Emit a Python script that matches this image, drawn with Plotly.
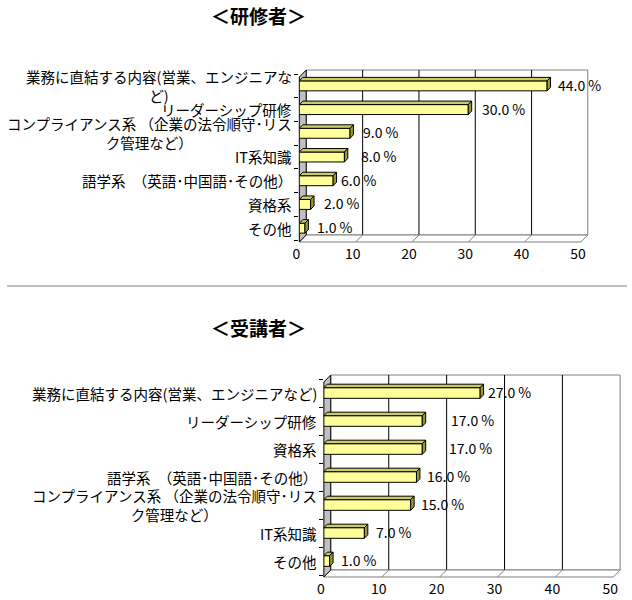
import plotly.graph_objects as go

# ---------------- data ----------------
top_title = "＜研修者＞"
top_categories = [
    "業務に直結する内容(営業、エンジニアな<br>ど)",
    "リーダーシップ研修",
    "コンプライアンス系 （企業の法令順守･リス<br>ク管理など）",
    "IT系知識",
    "語学系　（英語･中国語･その他）",
    "資格系",
    "その他",
]
top_values = [44.0, 30.0, 9.0, 8.0, 6.0, 2.0, 1.0]

bottom_title = "＜受講者＞"
bottom_categories = [
    "業務に直結する内容(営業、エンジニアなど)",
    "リーダーシップ研修",
    "資格系",
    "語学系　（英語･中国語･その他）",
    "コンプライアンス系 （企業の法令順守･リス<br>ク管理など）",
    "IT系知識",
    "その他",
]
bottom_values = [27.0, 17.0, 17.0, 16.0, 15.0, 7.0, 1.0]

x_ticks = [0, 10, 20, 30, 40, 50]

# label gaps (px) after bar ends, as placed in the original
top_label_gap = [9, 12, 11, 15, 6, 11, 10]
bottom_label_gap = [6, 27, 25, 9, 8, 10, 9]

# ---------------- style / layout ----------------
W, H = 632, 600
FONT = "Noto Sans CJK JP"
BAR_FRONT = "#FFFF99"
BAR_TOP = "#CCCC66"
BAR_SIDE = "#999933"
WALL = "#C0C0C0"
EDGE = "#808080"


def px(x):
    return x / W


def py(y):
    return 1 - y / H


charts = [
    dict(title=top_title, cats=top_categories, vals=top_values, gaps=top_label_gap,
         title_y=15, fx0=298, fx1=585, dom_top=74, dom_bot=240,
         wall_top=77, floor_front=242, depth=7, bar_w=0.42, xa="x", ya="y"),
    dict(title=bottom_title, cats=bottom_categories, vals=bottom_values, gaps=bottom_label_gap,
         title_y=327, fx0=323, fx1=618, dom_top=379, dom_bot=575,
         wall_top=382, floor_front=577, depth=7, bar_w=0.38, xa="x2", ya="y2"),
]

fig = go.Figure()
shapes = []
annotations = []
BAR_DEPTH_PX = 3.5

for k, c in enumerate(charts):
    n = len(c["cats"])
    ypos = [n - 1 - i for i in range(n)]
    vals = c["vals"]
    hw = c["bar_w"] / 2
    # pixel depth in data units
    dx = BAR_DEPTH_PX * 50 / (c["fx1"] - c["fx0"])
    dy = BAR_DEPTH_PX * n / (c["dom_bot"] - c["dom_top"])

    fig.add_trace(go.Bar(
        x=vals, y=ypos, orientation="h", width=c["bar_w"],
        marker=dict(color=BAR_FRONT, line=dict(color="black", width=1)),
        xaxis=c["xa"], yaxis=c["ya"], hoverinfo="skip", showlegend=False,
    ))
    # top faces
    tx, ty = [], []
    sx, sy = [], []
    for v, yp in zip(vals, ypos):
        tx += [0, v, v + dx, dx, 0, None]
        ty += [yp + hw, yp + hw, yp + hw + dy, yp + hw + dy, yp + hw, None]
        sx += [v, v, v + dx, v + dx, v, None]
        sy += [yp - hw, yp + hw, yp + hw + dy, yp - hw + dy, yp - hw, None]
    fig.add_trace(go.Scatter(x=tx, y=ty, mode="lines", fill="toself", fillcolor=BAR_TOP,
                             line=dict(color="black", width=1), xaxis=c["xa"], yaxis=c["ya"],
                             hoverinfo="skip", showlegend=False))
    fig.add_trace(go.Scatter(x=sx, y=sy, mode="lines", fill="toself", fillcolor=BAR_SIDE,
                             line=dict(color="black", width=1), xaxis=c["xa"], yaxis=c["ya"],
                             hoverinfo="skip", showlegend=False))

    d = c["depth"]
    back_top = c["wall_top"] - d
    back_bot = c["floor_front"] - d
    fx0, fx1 = c["fx0"], c["fx1"]
    # back plane
    shapes.append(dict(type="rect", xref="paper", yref="paper", layer="below",
                       x0=px(fx0 + d), x1=px(fx1 + d), y0=py(back_bot), y1=py(back_top),
                       fillcolor="white", line=dict(color=EDGE, width=1)))
    # back gridlines
    for t in x_ticks[1:-1]:
        shapes.append(dict(type="line", xref=c["xa"], xsizemode="pixel", xanchor=t,
                           x0=d, x1=d, yref="paper", y0=py(back_bot), y1=py(back_top),
                           layer="below", line=dict(color="black", width=1)))
    # floor
    shapes.append(dict(type="path", xref="paper", yref="paper", layer="below",
                       path=f"M{px(fx0)},{py(c['floor_front'])} L{px(fx0 + d)},{py(back_bot)} "
                            f"L{px(fx1 + d)},{py(back_bot)} L{px(fx1)},{py(c['floor_front'])} Z",
                       fillcolor="white", line=dict(color=EDGE, width=1)))
    for t in x_ticks[1:-1]:
        shapes.append(dict(type="line", xref=c["xa"], xsizemode="pixel", xanchor=t,
                           x0=0, x1=d, yref="paper", y0=py(c["floor_front"]), y1=py(back_bot),
                           layer="below", line=dict(color=EDGE, width=1)))
    # left wall
    shapes.append(dict(type="path", xref="paper", yref="paper", layer="below",
                       path=f"M{px(fx0)},{py(c['wall_top'])} L{px(fx0 + d)},{py(back_top)} "
                            f"L{px(fx0 + d)},{py(back_bot)} L{px(fx0)},{py(c['floor_front'])} Z",
                       fillcolor=WALL, line=dict(color="black", width=1)))

    # title
    annotations.append(dict(text=c["title"], xref="paper", yref="paper", x=px(256), y=py(c["title_y"]),
                            xanchor="center", yanchor="middle", showarrow=False,
                            font=dict(family=FONT, size=19, color="black", weight="bold")))
    # category labels
    for cat, yp in zip(c["cats"], ypos):
        annotations.append(dict(text=cat, xref="paper", yref=c["ya"], x=px(fx0 - 5), y=yp,
                                xanchor="right", yanchor="middle", align="center", showarrow=False,
                                font=dict(family=FONT, size=14.5, color="black")))
    # value labels
    for v, yp, g in zip(vals, ypos, c["gaps"]):
        annotations.append(dict(text=f"{v:.1f} %", xref=c["xa"], yref=c["ya"], x=v, y=yp,
                                xanchor="left", yanchor="middle", xshift=g, yshift=1, showarrow=False,
                                font=dict(family=FONT, size=14, color="black")))

# separator line
shapes.append(dict(type="line", xref="paper", yref="paper", x0=0, x1=1, y0=py(286), y1=py(286),
                   line=dict(color=EDGE, width=1)))

layout = dict(
    width=W, height=H, margin=dict(l=0, r=0, t=0, b=0), autosize=False,
    paper_bgcolor="white", plot_bgcolor="rgba(0,0,0,0)",
    showlegend=False, shapes=shapes, annotations=annotations,
    font=dict(family=FONT, color="black"),
)
for c in charts:
    xname = "xaxis" if c["xa"] == "x" else "xaxis2"
    yname = "yaxis" if c["ya"] == "y" else "yaxis2"
    n = len(c["cats"])
    layout[xname] = dict(domain=[px(c["fx0"]), px(c["fx1"])], range=[0, 50], anchor=c["ya"],
                         tickvals=x_ticks, ticks="", showgrid=False, zeroline=False, showline=False,
                         tickfont=dict(family=FONT, size=14, color="black"),
                         ticklabelshift=-3, ticklabelstandoff=4, fixedrange=True)
    layout[yname] = dict(domain=[py(c["dom_bot"]), py(c["dom_top"])], range=[-0.5, n - 0.5],
                         anchor=c["xa"], tickvals=[i - 0.5 for i in range(n + 1)],
                         ticks="outside", ticklen=4, tickcolor="black", showticklabels=False,
                         showgrid=False, zeroline=False, showline=False, fixedrange=True)

fig.update_layout(**layout)
fig.write_html("out.html")
